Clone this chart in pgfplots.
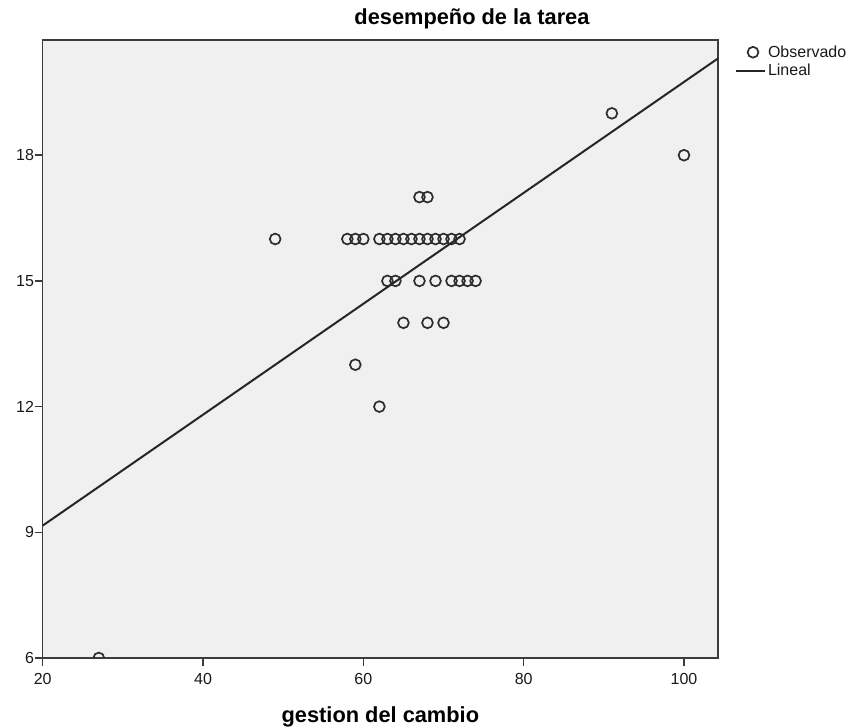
\documentclass[border=0pt]{standalone}
\usepackage{pgfplots}
\pgfplotsset{compat=1.18}
\usepackage{fontspec}
\setmainfont{Liberation Sans}

\definecolor{plotbg}{RGB}{240,240,240}
\definecolor{frame}{RGB}{60,60,60}
\definecolor{markc}{RGB}{45,45,45}

\pgfplotsset{
  obslegend/.style={legend image code/.code={\draw[##1] plot coordinates {(17pt,0pt)};}},
  linlegend/.style={legend image code/.code={\draw[##1] (0pt,0pt) -- (29pt,0pt);}},
}

\begin{document}
\begin{tikzpicture}
\path[use as bounding box] (0pt,0pt) rectangle (854pt,728pt);
\begin{axis}[
  at={(42.7pt,70pt)}, anchor=south west,
  scale only axis, width=675.3pt, height=618pt,
  xmin=20, xmax=104.24, ymin=6, ymax=20.75,
  xtick={20,40,60,80,100}, ytick={6,9,12,15,18},
  tick pos=left, tick align=outside,
  major tick length=8pt,
  every tick/.style={frame, line width=1.5pt},
  axis line style={frame, line width=1.5pt},
  axis background/.style={fill=plotbg},
  /pgf/number format/assume math mode=true,
  tick label style={font=\fontsize{16}{19}\selectfont, text=black!90},
  yticklabel style={inner sep=0.5pt},
  xticklabel style={inner sep=2pt, yshift=-5pt},
  clip marker paths=true,
  title={\bfseries desempeño de la tarea},
  title style={at={(axis description cs:0.6357,1.0146)}, anchor=base,
    font=\fontsize{21.8}{26}\selectfont},
  xlabel={\bfseries gestion del cambio},
  xlabel style={at={(axis description cs:0.5,-0.104)}, anchor=base,
    font=\fontsize{21.8}{26}\selectfont},
  legend style={draw=none, fill=none, inner sep=0pt, outer sep=0pt,
    at={(axis description cs:1.0252,0.994)}, anchor=north west,
    font=\fontsize{16}{19}\selectfont, row sep=1.5pt,
    nodes={inner sep=2pt, text=black!90}},
  legend cell align=left,
]
% observed cases
\addplot[only marks, mark=o, mark size=5.4pt, markc, line width=1.7pt, obslegend]
  table {
x y
27 6
49 16
58 16
59 16
60 16
62 16
63 16
64 16
65 16
66 16
67 16
68 16
69 16
70 16
71 16
72 16
67 17
68 17
63 15
64 15
67 15
69 15
71 15
72 15
73 15
74 15
65 14
68 14
70 14
59 13
62 12
91 19
100 18
};
\addlegendentry{Observado}
% linear fit
\addplot[black!85, line width=2pt, linlegend]
  coordinates {(20,9.16) (104.24,20.31)};
\addlegendentry{Lineal}
\end{axis}
\end{tikzpicture}
\end{document}
